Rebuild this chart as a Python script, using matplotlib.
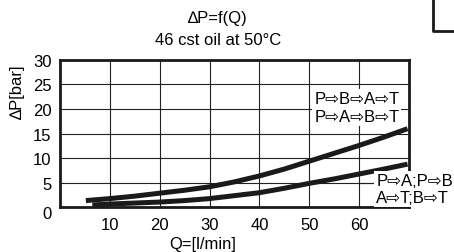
import numpy as np
import matplotlib
matplotlib.use('Agg')
import matplotlib.pyplot as plt
from matplotlib.lines import Line2D
import matplotlib.transforms as mtransforms

plt.rcParams['font.family'] = ['Liberation Sans', 'DejaVu Sans']
plt.rcParams['font.size'] = 12

# data
q_upper = [5.2, 10, 15, 20, 25, 30, 35, 40, 45, 50, 55, 60, 65, 69.7]
dp_upper = [1.4, 1.8, 2.3, 2.9, 3.5, 4.2, 5.2, 6.4, 7.8, 9.4, 11.0, 12.6, 14.3, 16.0]
q_lower = [6.5, 10, 15, 20, 25, 30, 35, 40, 45, 50, 55, 60, 65, 69.7]
dp_lower = [0.5, 0.7, 0.9, 1.1, 1.4, 1.8, 2.4, 3.0, 3.9, 4.9, 5.8, 6.8, 7.8, 8.8]

x_ticks = [10, 20, 30, 40, 50, 60]
y_ticks = [0, 5, 10, 15, 20, 25, 30]

fig = plt.figure(figsize=(4.54, 2.53), dpi=100)
ax = fig.add_axes([0.132, 0.176, 0.769, 0.584])

ax.set_xlim(0, 70)
ax.set_ylim(0, 30)
ax.set_xticks(x_ticks)
ax.set_yticks(y_ticks)
ax.tick_params(length=0, labelsize=12, color='#222222')
ax.tick_params(axis='y', pad=6)
ax.tick_params(axis='x', pad=7)
ax.grid(True, color='#222222', linewidth=0.8)
ax.set_axisbelow(True)
for s in ax.spines.values():
    s.set_linewidth(2.0)
    s.set_color('#1a1a1a')

# "0" label sits a bit below the axis
lab0 = ax.get_yticklabels()[0]
lab0.set_transform(lab0.get_transform() +
                   mtransforms.ScaledTranslation(0, -5 / 100, fig.dpi_scale_trans))

ax.plot(q_upper, dp_upper, color='#1a1a1a', linewidth=3.6, solid_capstyle='butt', zorder=3)
ax.plot(q_lower, dp_lower, color='#1a1a1a', linewidth=3.6, solid_capstyle='butt', zorder=3)

# leader line for the lower label
ax.plot([60, 63], [5, 5], color='#222222', linewidth=0.8, zorder=2)

ax.text(51.0, 20.3, "P⇨B⇨A⇨T\nP⇨A⇨B⇨T", ha='left', va='center', fontsize=12,
        linespacing=1.2, zorder=4,
        bbox=dict(facecolor='white', edgecolor='none', pad=1.5))
ax.text(63.4, 3.7, "P⇨A;P⇨B\nA⇨T;B⇨T", ha='left', va='center', fontsize=12,
        linespacing=1.2, zorder=4, clip_on=False,
        bbox=dict(facecolor='white', edgecolor='none', pad=1.5))

fig.text(218 / 454, 1 - 18 / 253, "∆P=f(Q)", ha='center', va='center', fontsize=12)
fig.text(218 / 454, 1 - 41 / 253, "46 cst oil at 50°C", ha='center', va='center', fontsize=12)
fig.text(17 / 454, 1 - 92 / 253, "∆P[bar]", ha='center', va='center', rotation=90, fontsize=12)
fig.text(203 / 454, 1 - 245 / 253, "Q=[l/min]", ha='center', va='center', fontsize=12)

# corner of a box in the top-right
fig.add_artist(Line2D([433 / 454, 433 / 454, 1.0], [1.0, 1 - 32 / 253, 1 - 32 / 253],
                      transform=fig.transFigure, color='#1a1a1a', linewidth=2.0))

fig.savefig('out.png', dpi=100)
